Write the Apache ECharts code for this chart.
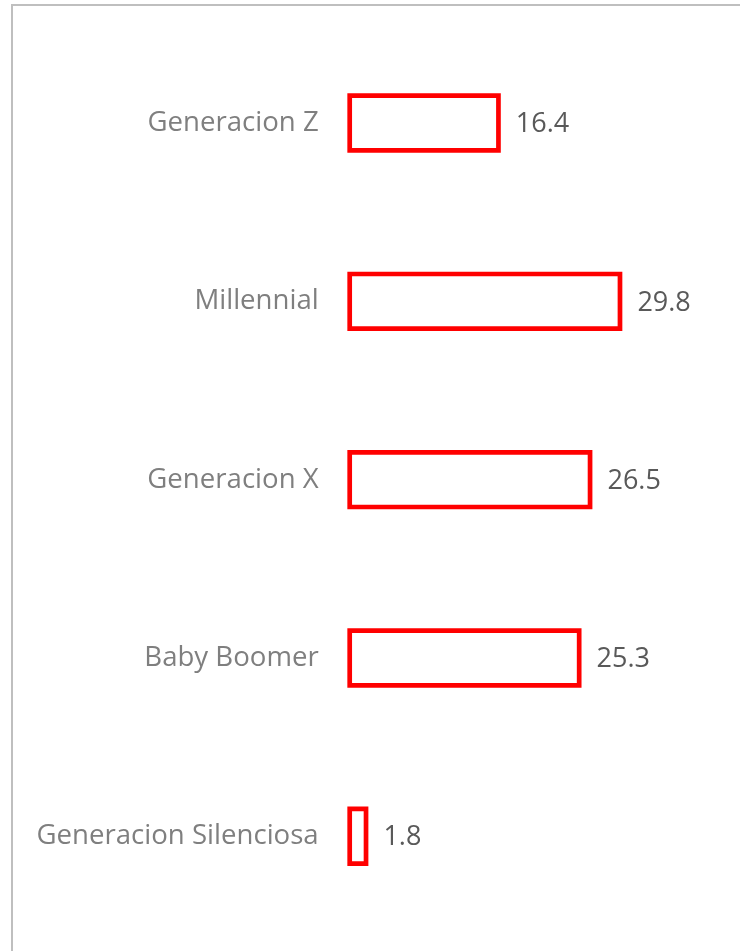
<!DOCTYPE html>
<html><head><meta charset="utf-8">
<script src="https://cdn.jsdelivr.net/npm/echarts@6/dist/echarts.min.js"></script>
<style>html,body{margin:0;padding:0;background:#fff;}#c{width:740px;height:951px;}</style>
</head><body><div id="c"></div>
<script>
const categories = ["Generacion Z","Millennial","Generacion X","Baby Boomer","Generacion Silenciosa"];
const values = [16.4, 29.8, 26.5, 25.3, 1.8];

const BAR_H = 54.7, LW = 4.7, GAP = 17.4;
const chart = echarts.init(document.getElementById('c'));
chart.setOption({
  animation: false,
  graphic: [{type:'rect', shape:{x:12,y:5,width:800,height:1000}, style:{fill:'none', stroke:'#bfbfbf', lineWidth:2}, silent:true}],
  grid: {left:349.7, right:27.5, top:33.85, bottom:25.55},
  xAxis: {type:'value', min:0, max:40, show:false},
  yAxis: {type:'category', data:categories, inverse:true,
    axisLine:{show:false}, axisTick:{show:false}, splitLine:{show:false},
    axisLabel:{margin:31, color:'#7f7f7f', fontSize:27.6, fontFamily:'Open Sans'}},
  series: [{type:'custom',
    data: values.map((v,i)=>[v,i]),
    encode:{x:0, y:1},
    renderItem: function(params, api){
      const v = api.value(0), c = api.value(1);
      const p0 = api.coord([0, c]);
      const p1 = api.coord([v, c]);
      return {type:'group', children:[
        {type:'rect', shape:{x:p0[0], y:p0[1]-BAR_H/2, width:p1[0]-p0[0], height:BAR_H},
         style:{fill:'#ffffff', stroke:'#ff0000', lineWidth:LW}},
        {type:'text', style:{text:String(v), x:p1[0]+GAP, y:p0[1]+1.5, verticalAlign:'middle', align:'left',
         fill:'#595959', fontSize:27, fontFamily:'Open Sans'}}
      ]};
    }}]
});
</script></body></html>
